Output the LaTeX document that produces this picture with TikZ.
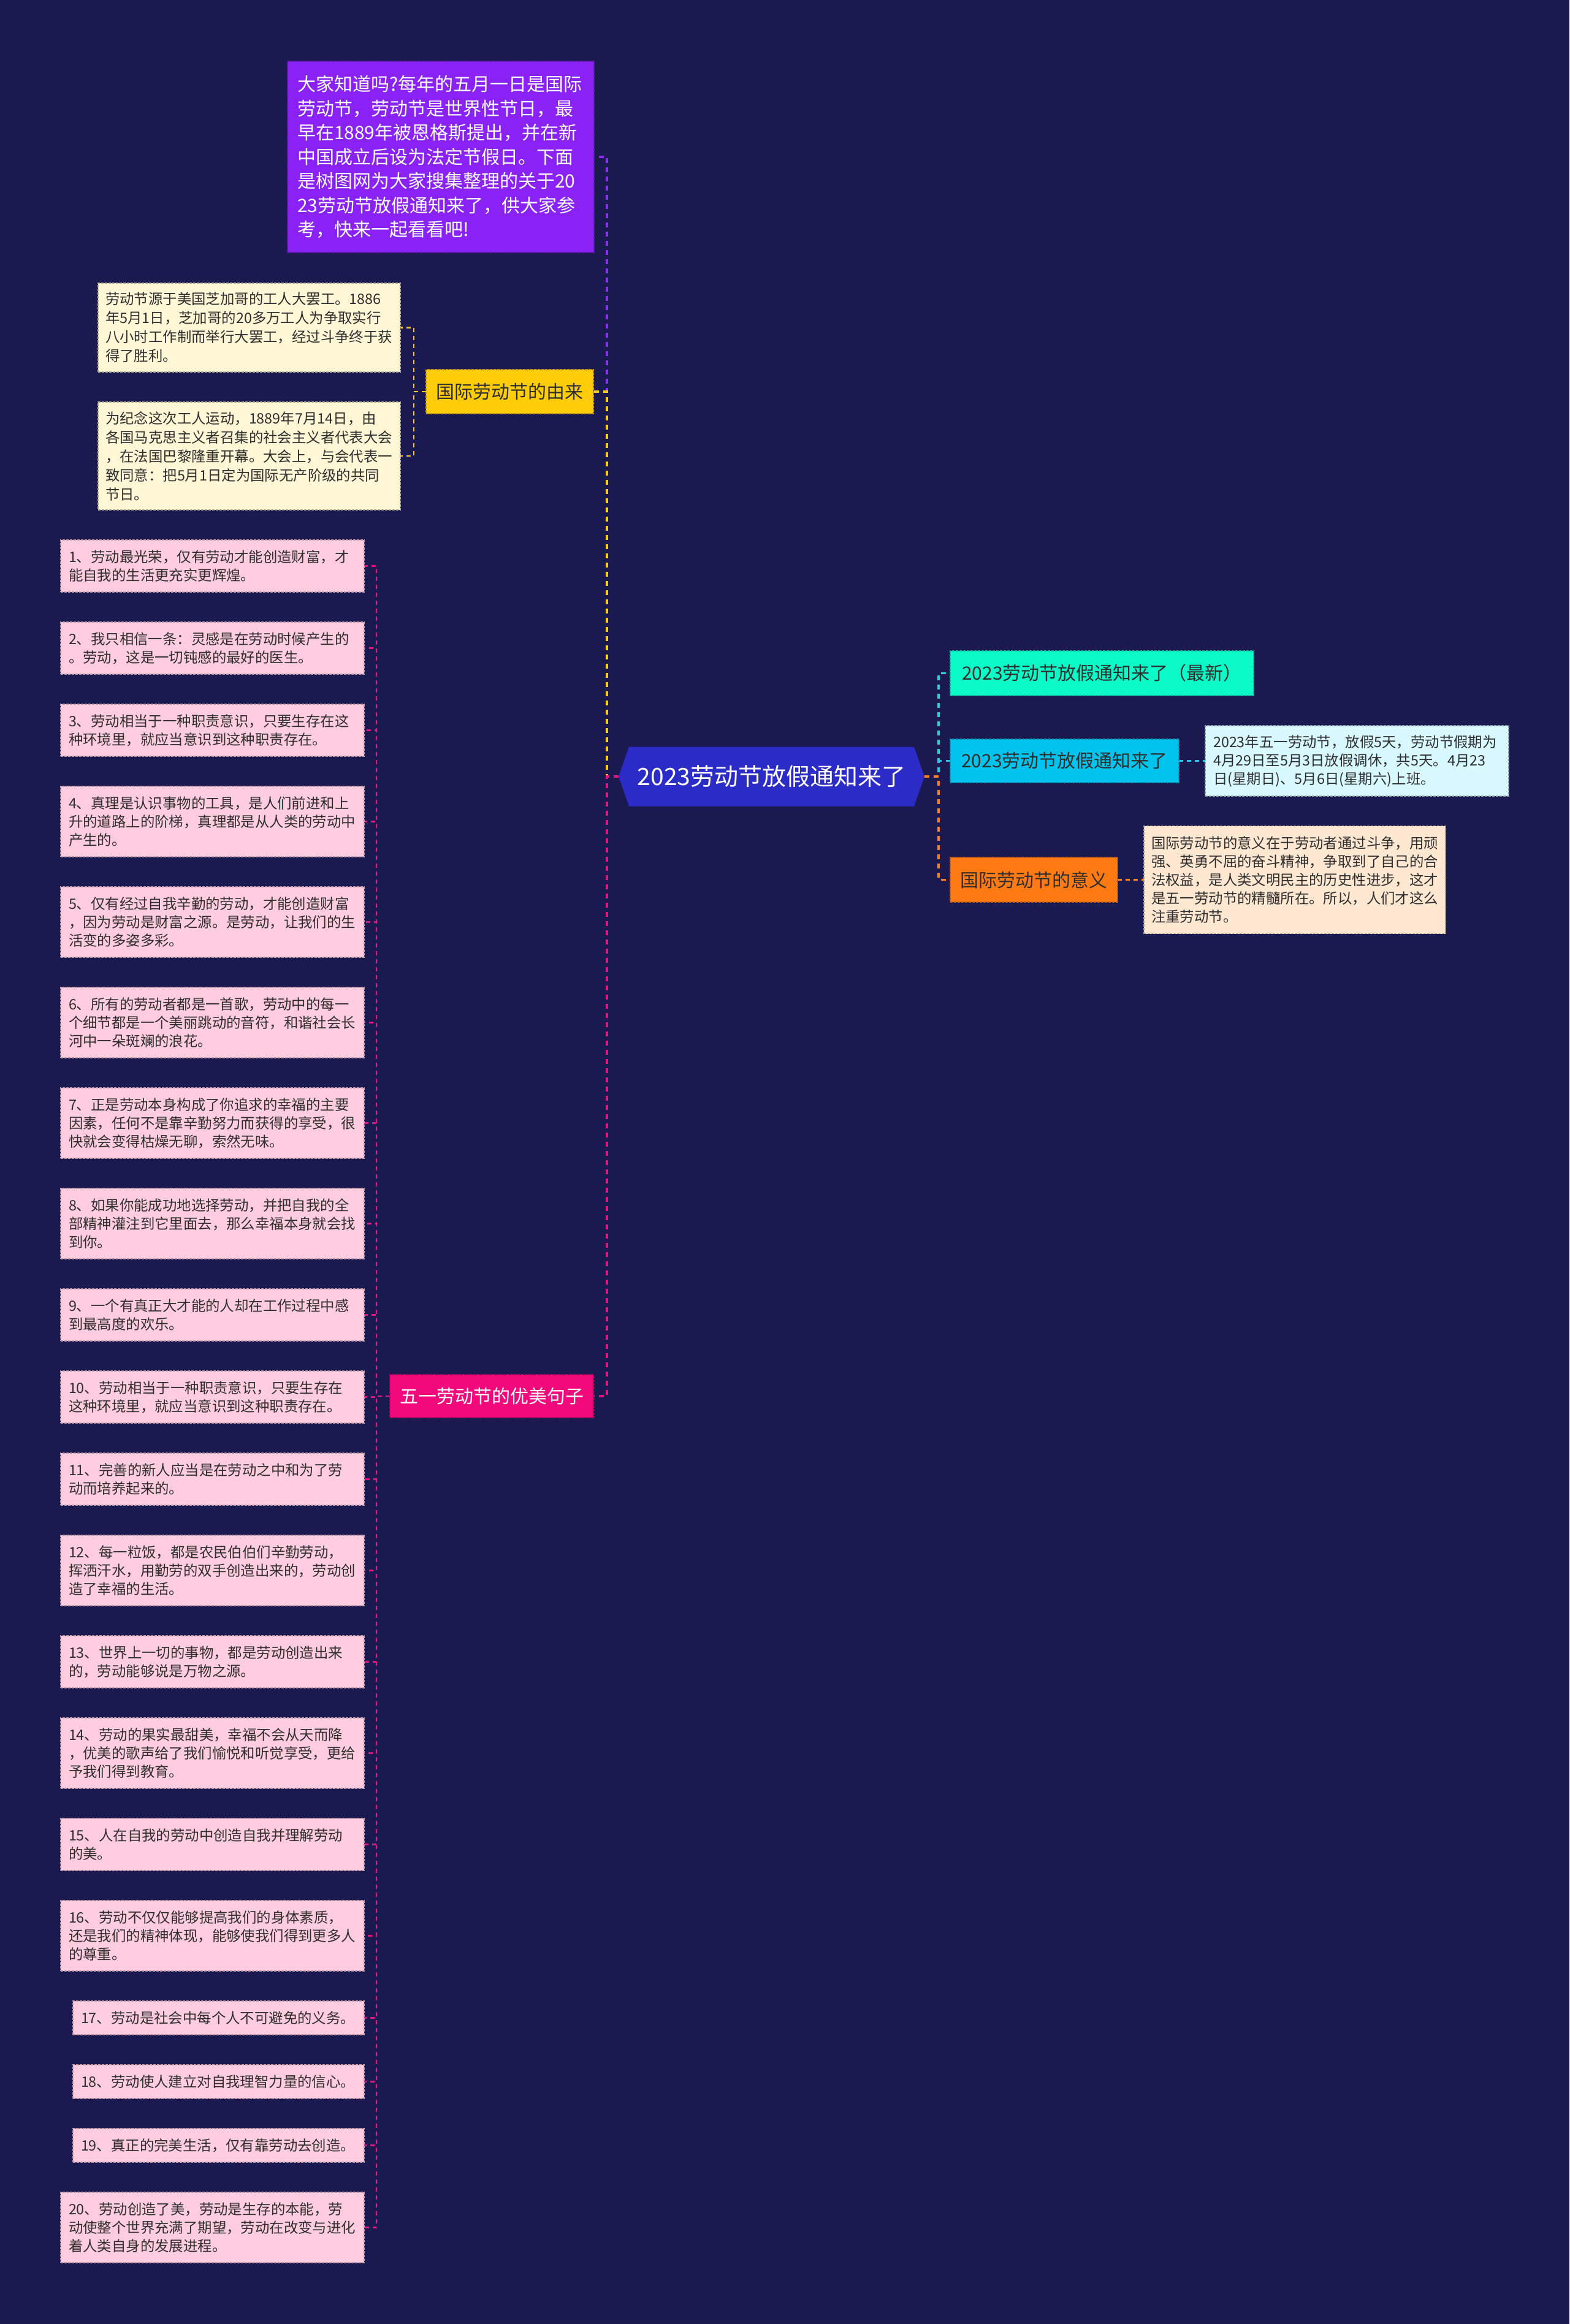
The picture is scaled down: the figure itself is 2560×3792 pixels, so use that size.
\documentclass[tikz,border=0pt]{standalone}
\usepackage{fontspec}
\setmainfont{Noto Sans CJK SC}
\usetikzlibrary{calc}
\definecolor{bgc}{HTML}{1A1950}
\definecolor{introc}{HTML}{8A22F5}
\definecolor{yellowc}{HTML}{FFCC08}
\definecolor{creamc}{HTML}{FFF7D6}
\definecolor{qpink}{HTML}{FFCCE0}
\definecolor{hotpink}{HTML}{F20A7C}
\definecolor{rootc}{HTML}{2B2BC8}
\definecolor{mintc}{HTML}{0AFAC8}
\definecolor{skyc}{HTML}{00C4EE}
\definecolor{lcyan}{HTML}{D7F9FF}
\definecolor{orangec}{HTML}{FF7A12}
\definecolor{peachc}{HTML}{FFE8D2}
\definecolor{txtdark}{HTML}{2E2E2E}
\definecolor{cpurple}{HTML}{8E2CF0}
\definecolor{cyellow}{HTML}{FFC91F}
\definecolor{cpink}{HTML}{E0177F}
\definecolor{cteal}{HTML}{2BD1D1}
\definecolor{csky}{HTML}{1EC6EE}
\definecolor{corange}{HTML}{FF7F1F}
\pgfdeclarelayer{bglayer}
\pgfdeclarelayer{edgelayer}
\pgfsetlayers{bglayer,edgelayer,main}
\tikzset{
  every node/.style={inner sep=0pt, outer sep=0pt},
  tbox/.style={rectangle, line width=0.9pt, dash pattern=on 3pt off 1.5pt},
  smalltext/.style={font=\fontsize{17.55pt}{22.5pt}\selectfont, align=left, text=txtdark},
  qbox/.style={tbox, smalltext, fill=qpink, draw=qpink!75!black, inner xsep=9.75pt, text width=351.75pt},
  qshort/.style={qbox, text width=336.75pt},
  hone/.style={minimum height=41.25pt},
  htwo/.style={minimum height=63.75pt},
  hthree/.style={minimum height=86.25pt},
  cbox/.style={tbox, smalltext, fill=creamc, draw=creamc!70!black, inner xsep=9pt, text width=351.75pt, font=\fontsize{17.55pt}{23.25pt}\selectfont},
  titlebox/.style={tbox, font=\fontsize{22.5pt}{27pt}\selectfont, align=center},
  conn/.style={line width=2.6pt, dash pattern=on 6pt off 5.25pt},
  subconn/.style={line width=2.1pt, dash pattern=on 5.25pt off 4.5pt},
}
\begin{document}
\begin{tikzpicture}[x=0.75pt, y=-0.75pt]
\begin{pgfonlayer}{bglayer}
\fill[bgc] (0,0) rectangle (2560,3792);
\end{pgfonlayer}
\useasboundingbox (0,0) rectangle (2560,3792);

% root
\node[text=white, minimum width=374.25pt, minimum height=72.75pt, font=\fontsize{29.25pt}{34pt}\selectfont] (root) at (1258.5,1267) {2023劳动节放假通知来了};

% intro
\node[tbox, fill=introc, draw=introc!70!black, text=white, align=left, inner xsep=12pt, text width=351pt, minimum height=234pt, font=\fontsize{22.5pt}{29.6pt}\selectfont] (intro) at (719,256) {大家知道吗?每年的五月一日是国际\\劳动节，劳动节是世界性节日，最\\早在1889年被恩格斯提出，并在新\\中国成立后设为法定节假日。下面\\是树图网为大家搜集整理的关于20\\23劳动节放假通知来了，供大家参\\考，快来一起看看吧!};

% origin branch
\node[titlebox, fill=yellowc, draw=yellowc!75!black, text=txtdark, minimum width=204.75pt, minimum height=54pt] (yellow) at (831.5,639) {国际劳动节的由来};
\node[cbox, minimum height=108.75pt] (cream1) at (406.5,534.5) {劳动节源于美国芝加哥的工人大罢工。1886\\年5月1日，芝加哥的20多万工人为争取实行\\八小时工作制而举行大罢工，经过斗争终于获\\得了胜利。};
\node[cbox, minimum height=132pt] (cream2) at (406.5,744) {为纪念这次工人运动，1889年7月14日，由\\各国马克思主义者召集的社会主义者代表大会\\，在法国巴黎隆重开幕。大会上，与会代表一\\致同意：把5月1日定为国际无产阶级的共同\\节日。};

% right branches
\node[titlebox, fill=mintc, draw=mintc!75!black, text=txtdark, minimum width=371.25pt, minimum height=54.75pt] (green) at (1797.5,1098.5) {2023劳动节放假通知来了（最新）};
\node[titlebox, fill=skyc, draw=skyc!75!black, text=txtdark, minimum width=279.75pt, minimum height=53.25pt] (blue) at (1736.5,1241.5) {2023劳动节放假通知来了};
\node[tbox, smalltext, fill=lcyan, draw=lcyan!65!black, inner xsep=9.75pt, text width=351.75pt, minimum height=86.25pt] (cyand) at (2213.5,1241.5) {2023年五一劳动节，放假5天，劳动节假期为\\4月29日至5月3日放假调休，共5天。4月23\\日(星期日)、5月6日(星期六)上班。};
\node[titlebox, fill=orangec, draw=orangec!75!black, text=txtdark, minimum width=204.75pt, minimum height=54.75pt] (orange) at (1686.5,1435.5) {国际劳动节的意义};
\node[tbox, smalltext, fill=peachc, draw=peachc!65!black, inner xsep=9pt, text width=351pt, minimum height=132pt] (peach) at (2112,1435.5) {国际劳动节的意义在于劳动者通过斗争，用顽\\强、英勇不屈的奋斗精神，争取到了自己的合\\法权益，是人类文明民主的历史性进步，这才\\是五一劳动节的精髓所在。所以，人们才这么\\注重劳动节。};

% quotes branch
\node[titlebox, fill=hotpink, draw=hotpink!75!black, text=white, minimum width=249pt, minimum height=52.5pt] (wuyi) at (802,2278) {五一劳动节的优美句子};

\node[qbox, htwo] (q1) at (346.5,923.5) {1、劳动最光荣，仅有劳动才能创造财富，才\\能自我的生活更充实更辉煌。};
\node[qbox, htwo] (q2) at (346.5,1057.5) {2、我只相信一条：灵感是在劳动时候产生的\\。劳动，这是一切钝感的最好的医生。};
\node[qbox, htwo] (q3) at (346.5,1191.5) {3、劳动相当于一种职责意识，只要生存在这\\种环境里，就应当意识到这种职责存在。};
\node[qbox, hthree] (q4) at (346.5,1340.5) {4、真理是认识事物的工具，是人们前进和上\\升的道路上的阶梯，真理都是从人类的劳动中\\产生的。};
\node[qbox, hthree] (q5) at (346.5,1504.5) {5、仅有经过自我辛勤的劳动，才能创造财富\\，因为劳动是财富之源。是劳动，让我们的生\\活变的多姿多彩。};
\node[qbox, hthree] (q6) at (346.5,1668.5) {6、所有的劳动者都是一首歌，劳动中的每一\\个细节都是一个美丽跳动的音符，和谐社会长\\河中一朵斑斓的浪花。};
\node[qbox, hthree] (q7) at (346.5,1832.5) {7、正是劳动本身构成了你追求的幸福的主要\\因素，任何不是靠辛勤努力而获得的享受，很\\快就会变得枯燥无聊，索然无味。};
\node[qbox, hthree] (q8) at (346.5,1996.5) {8、如果你能成功地选择劳动，并把自我的全\\部精神灌注到它里面去，那么幸福本身就会找\\到你。};
\node[qbox, htwo] (q9) at (346.5,2145.5) {9、一个有真正大才能的人却在工作过程中感\\到最高度的欢乐。};
\node[qbox, htwo] (q10) at (346.5,2279.5) {10、劳动相当于一种职责意识，只要生存在\\这种环境里，就应当意识到这种职责存在。};
\node[qbox, htwo] (q11) at (346.5,2413.5) {11、完善的新人应当是在劳动之中和为了劳\\动而培养起来的。};
\node[qbox, hthree] (q12) at (346.5,2562.5) {12、每一粒饭，都是农民伯伯们辛勤劳动，\\挥洒汗水，用勤劳的双手创造出来的，劳动创\\造了幸福的生活。};
\node[qbox, htwo] (q13) at (346.5,2711.5) {13、世界上一切的事物，都是劳动创造出来\\的，劳动能够说是万物之源。};
\node[qbox, hthree] (q14) at (346.5,2860.5) {14、劳动的果实最甜美，幸福不会从天而降\\，优美的歌声给了我们愉悦和听觉享受，更给\\予我们得到教育。};
\node[qbox, htwo] (q15) at (346.5,3009.5) {15、人在自我的劳动中创造自我并理解劳动\\的美。};
\node[qbox, hthree] (q16) at (346.5,3158.5) {16、劳动不仅仅能够提高我们的身体素质，\\还是我们的精神体现，能够使我们得到更多人\\的尊重。};
\node[qshort, hone] (q17) at (356.5,3292.5) {17、劳动是社会中每个人不可避免的义务。};
\node[qshort, hone] (q18) at (356.5,3396.5) {18、劳动使人建立对自我理智力量的信心。};
\node[qshort, hone] (q19) at (356.5,3500.5) {19、真正的完美生活，仅有靠劳动去创造。};
\node[qbox, hthree] (q20) at (346.5,3634.5) {20、劳动创造了美，劳动是生存的本能，劳\\动使整个世界充满了期望，劳动在改变与进化\\着人类自身的发展进程。};

\begin{pgfonlayer}{edgelayer}
\draw[conn, cpurple] (root.west) -- ++(-19,0) |- (intro.east);
\draw[conn, cyellow] (root.west) -- ++(-19,0) |- (yellow.east);
\draw[conn, cpink] (root.west) -- ++(-19,0) |- (wuyi.east);
\draw[conn, cteal] (root.east) -- ++(23,0) |- (green.west);
\draw[conn, csky] (root.east) -- ++(23,0) |- (blue.west);
\draw[conn, corange] (root.east) -- ++(23,0) |- (orange.west);
\draw[subconn, cyellow] (yellow.west) -- ++(-20,0) |- (cream1.east);
\draw[subconn, cyellow] (yellow.west) -- ++(-20,0) |- (cream2.east);
\foreach \i in {1,...,20}{
  \draw[subconn, cpink] (wuyi.west) -- ++(-22,0) |- (q\i.east);
}
\draw[subconn, csky] (blue.east) -- (cyand.west);
\draw[subconn, corange] (orange.east) -- (peach.west);
\fill[rootc] (root.west) -- ([xshift=12.75pt]root.north west) -- ([xshift=-12.75pt]root.north east) -- (root.east) -- ([xshift=-12.75pt]root.south east) -- ([xshift=12.75pt]root.south west) -- cycle;
\end{pgfonlayer}
\end{tikzpicture}
\end{document}
